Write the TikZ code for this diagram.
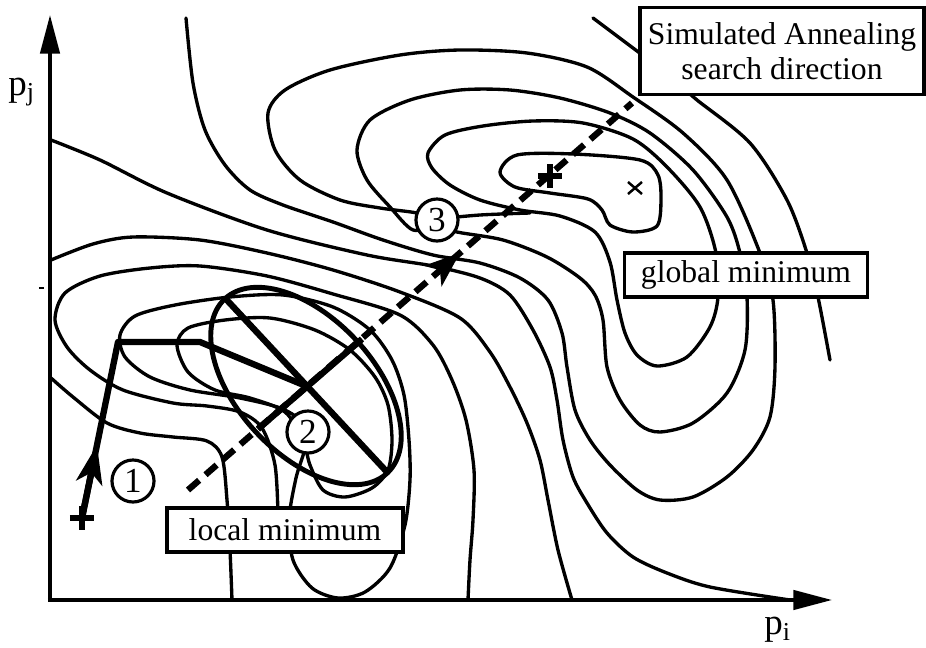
\documentclass[tikz,border=0pt]{standalone}
\usepackage{fontspec}
\setmainfont{Liberation Serif}
\usetikzlibrary{arrows.meta}

\begin{document}
\begin{tikzpicture}[x=0.01cm, y=-0.01cm,
    every node/.style={font=\fontsize{9}{10}\selectfont},
    contour/.style={line width=0.95pt, line join=round, line cap=round},
    heavy/.style={line width=1.8pt, line join=round},
    axis/.style={line width=1pt, -{Triangle[length=11pt, width=5.5pt]}},
    numcircle/.style={circle, draw, line width=0.9pt, fill=white, minimum size=0.42cm, inner sep=0pt, font=\fontsize{10}{11}\selectfont},
    labelbox/.style={draw, line width=1pt, fill=white, inner sep=0pt, align=center},
    plus/.style={line width=1.8pt}]

    \useasboundingbox (0,0) rectangle (926,648);

    % axes
    \coordinate (origin) at (48,600);
    \coordinate (yfoot) at (50,600);
    \coordinate (ytip) at (50,15);
    \coordinate (xtip) at (832,600);
    \draw[axis] (yfoot) -- (ytip);
    \draw[axis] (origin) -- (xtip);
    \draw[line width=0.7pt] (39,288) -- (44,288);
    \node[font=\fontsize{10.5}{12}\selectfont] (pj) at (22,92) {p\textsubscript{j}};
    \node[font=\fontsize{10.5}{12}\selectfont] (pi) at (778,630) {p\textsubscript{i}};

    % contours round the global minimum
    \draw[contour] plot[smooth cycle] coordinates {(500,172) (517,155) (573,154) (640,160) (658,175) (661,200) (657,226) (633,232) (610,225) (602,210) (588,199) (550,193) (515,187)};
    \draw[contour] plot[smooth cycle] coordinates {(428,153) (445,135) (483,126) (533,121) (583,123) (633,139) (667,167) (700,207) (716,253) (718,297) (710,327) (687,357) (657,366) (637,355) (625,333) (617,300) (610,262) (595,232) (560,216) (520,210) (480,200) (450,185) (432,168)};
    \draw[contour] plot[smooth] coordinates {(437,219) (480,215) (530,213)};
    \draw[contour] plot[smooth cycle] coordinates {(437,225) (413,230) (390,207) (367,180) (357,150) (370,120) (410,100) (460,90) (510,90) (560,98) (610,113) (650,133) (693,170) (727,217) (740,253) (747,297) (745,350) (727,393) (693,423) (660,432) (640,425) (620,400) (607,367) (603,320) (595,295) (580,278) (547,257) (503,240) (457,232)};
    \draw[contour] plot[smooth] coordinates {(186,18) (193,83) (205,130) (225,165) (250,190) (283,205) (333,222) (383,240) (433,255) (480,263) (520,278) (548,300) (562,333) (567,367) (575,410) (590,440) (610,465) (637,490) (660,500) (693,497) (727,477) (753,450) (770,417) (775,367) (773,300) (760,253) (727,180) (683,133) (633,97) (587,67) (527,53) (460,50) (400,55) (330,70) (285,90) (268,113) (275,150) (300,180) (340,200) (380,208) (417,213) (437,220)};
    \draw[contour] plot[smooth] coordinates {(51,140) (100,160) (167,193) (267,230) (367,255) (433,266) (480,278) (510,295) (533,330) (550,367) (557,400) (563,440) (573,477) (587,503) (607,533) (633,557) (667,573) (710,587) (790,600)};
    \draw[contour] plot[smooth] coordinates {(51,260) (93,244) (133,237) (200,240) (267,253) (333,270) (400,292) (460,318) (490,352) (510,387) (527,423) (540,460) (548,500) (558,550) (572,600)};
    \draw[contour] plot[smooth] coordinates {(680,85) (697,100) (750,143) (787,200) (807,253) (818,297) (830,360)};
    \draw[contour] (593,18) -- (645,57);

    % contours round the local minimum
    \draw[contour] plot[smooth] coordinates {(51,378) (73,397) (107,423) (140,433) (173,437) (207,441) (222,457) (227,500) (230,550) (232,600)};
    \draw[contour] plot[smooth] coordinates {(278,515) (275,465) (262,428) (240,412) (207,406) (173,403) (123,390) (90,370) (67,347) (55,320) (65,293) (100,276) (150,268) (200,266) (267,276) (333,294) (400,315) (433,345) (452,380) (466,420) (474,470) (473,520) (470,560) (468,600)};
    \draw[contour] plot[smooth cycle] coordinates {(308,432) (285,410) (240,398) (190,390) (150,377) (125,357) (120,335) (135,316) (175,305) (230,297) (283,295) (333,307) (370,330) (392,360) (404,395) (409,440) (410,480) (405,525) (390,568) (365,592) (338,598) (312,588) (293,560) (289,520) (296,478)};
    \draw[contour] plot[smooth cycle] coordinates {(177,345) (188,328) (225,320) (270,318) (315,330) (350,350) (375,377) (388,405) (392,440) (388,470) (372,488) (345,497) (323,490) (310,465) (303,440) (285,412) (250,398) (215,390) (188,372)};

    % search ellipse and its axes
    \coordinate (center) at (306,386);
    \coordinate (majA) at (225,298);
    \coordinate (majB) at (387,472);
    \coordinate (minA) at (258,429);
    \coordinate (minB) at (362,339);
    \draw[line width=1.4pt, rotate around={-47:(center)}] (center) ellipse [x radius=1.19cm, y radius=0.68cm];
    \draw[heavy] (majA) -- (majB);
    \draw[heavy] (minA) -- (minB);

    % descent path
    \coordinate (start) at (82,518);
    \coordinate (arr1) at (97,445);
    \coordinate (bend1) at (118,342);
    \coordinate (bend2) at (200,342);
    \draw[heavy] (start) -- (arr1) -- (bend1) -- (bend2) -- (center);
    \draw[heavy, -{Stealth[length=11pt, width=7.5pt, inset=3pt]}] (start) -- (arr1);
    \draw[plus] (start) +(-12,0) -- +(12,0) (start) +(0,-12) -- +(0,12);

    % simulated annealing direction
    \coordinate (sa0) at (188,490);
    \coordinate (sa1) at (632,103);
    \coordinate (sarrb) at (440,270);
    \coordinate (sarr) at (460,253);
    \coordinate (best) at (550,176);
    \draw[heavy, dash pattern=on 4.2pt off 2.4pt] (sa0) -- (sa1);
    \draw[heavy, -{Stealth[length=10pt, width=7.5pt, inset=2.5pt]}] (sarrb) -- (sarr);
    \draw[plus] (best) +(-12,0) -- +(12,0) (best) +(0,-12) -- +(0,12);
    \coordinate (glob) at (635,188);
    \draw[line width=0.7pt] (glob) +(-7,-6) -- +(7,6) (glob) +(-7,6) -- +(7,-6);

    % labels
    \node[numcircle] (n1) at (133,481) {1};
    \node[numcircle] (n2) at (308,432) {2};
    \node[numcircle] (n3) at (437,220) {3};
    \node[labelbox, minimum width=2.84cm, minimum height=0.87cm] (sabox) at (782,51) {Simulated Annealing\\search direction};
    \node[labelbox, minimum width=2.43cm, minimum height=0.44cm] (globbox) at (746,275) {global minimum};
    \node[labelbox, minimum width=2.36cm, minimum height=0.44cm] (locbox) at (285,530) {local minimum};
\end{tikzpicture}
\end{document}
